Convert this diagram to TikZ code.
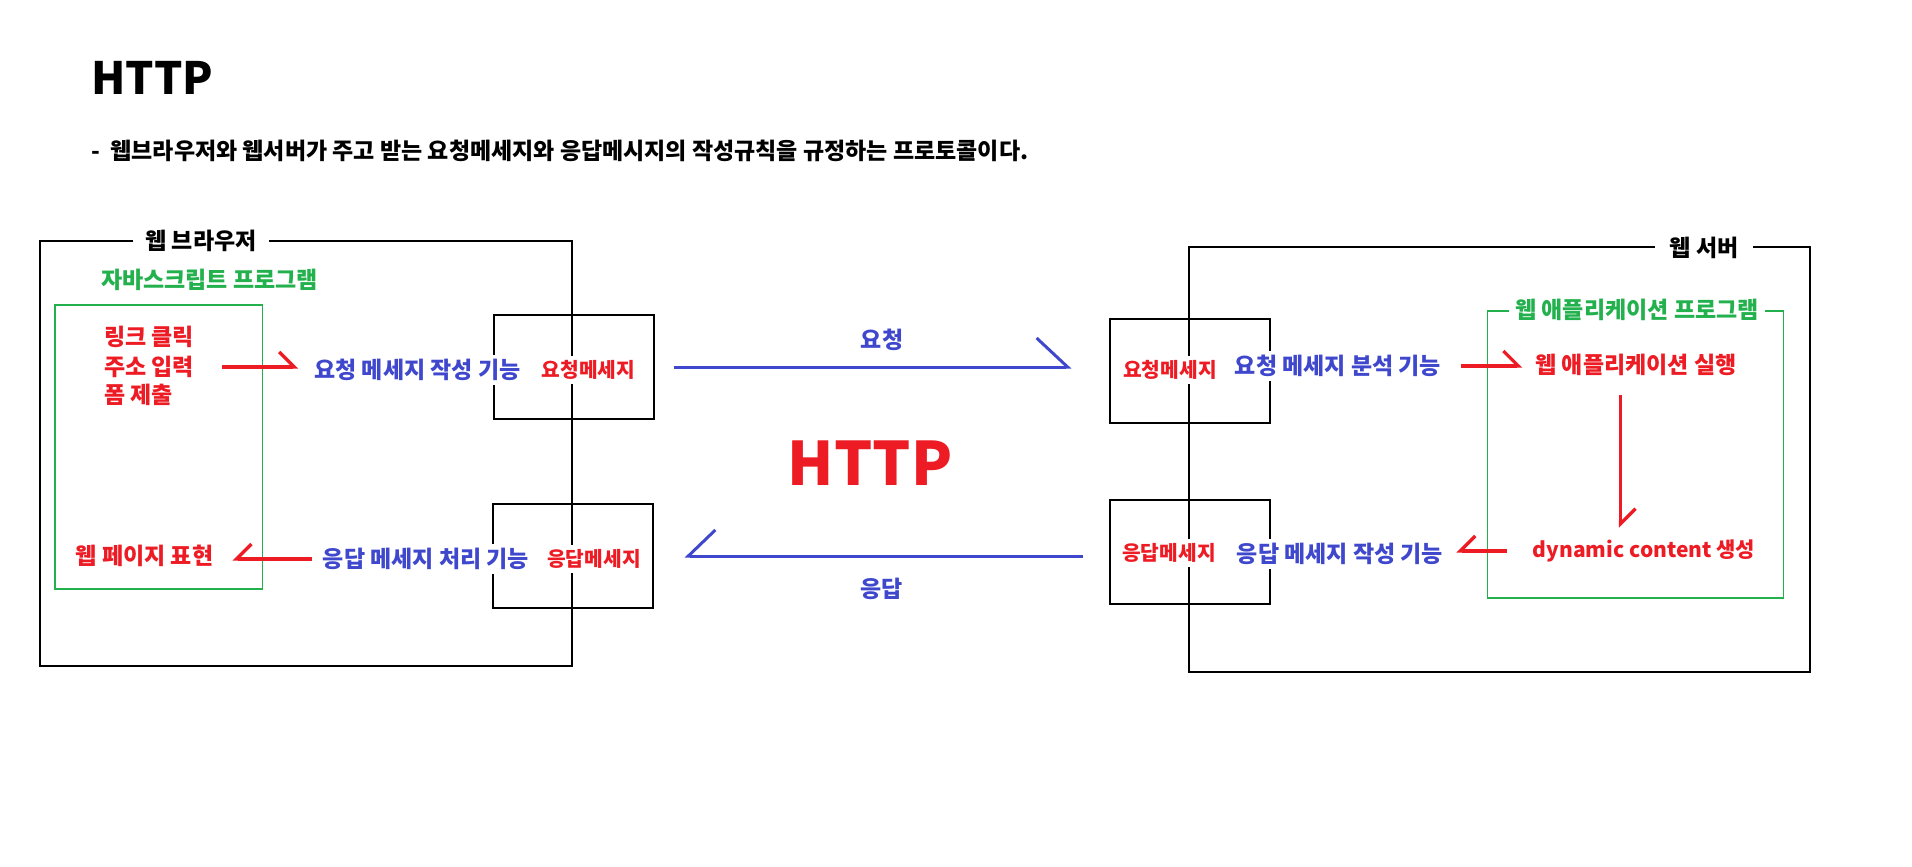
\documentclass[tikz,border=0pt]{standalone}
\usepackage{fontspec}
\setmainfont{Noto Sans CJK KR}
\usetikzlibrary{arrows.meta}
\definecolor{pred}{HTML}{ED1C24}
\definecolor{pblue}{HTML}{3F48CC}
\definecolor{pgreen}{HTML}{22B14C}
\newcommand\kfont{\bfseries\fontsize{23}{27}\selectfont}
\newcommand\mfont{\bfseries\fontsize{20.3}{24}\selectfont}
\begin{document}
\begin{tikzpicture}[x=1pt,y=-1pt]
            \tikzstyle{outer box}=[draw,line width=1.2pt,inner sep=0pt]
            \tikzstyle{green box}=[draw=pgreen,line width=1.2pt,inner sep=0pt]
            \tikzstyle{msg box}=[draw,line width=1.2pt,inner sep=0pt,minimum width=160pt,minimum height=104pt]
            \tikzstyle{frame label}=[fill=white,inner xsep=12pt,inner ysep=2pt,font=\kfont]
            \tikzstyle{red text}=[text=pred,fill=white,inner xsep=3pt,inner ysep=4pt,font=\kfont]
            \tikzstyle{blue text}=[text=pblue,fill=white,inner xsep=3pt,inner ysep=4pt,font=\kfont]
            \tikzstyle{msg text}=[text=pred,fill=white,inner xsep=3pt,inner ysep=4pt,font=\mfont]
            \tikzstyle{red harpoon}=[draw=pred,line width=3.3pt,-{Straight Barb[left,length=15pt,width=30pt]}]
            \tikzstyle{red harpoon back}=[draw=pred,line width=3.3pt,-{Straight Barb[right,length=15pt,width=30pt]}]
            \tikzstyle{blue harpoon}=[draw=pblue,line width=3pt,-{Straight Barb[left,length=31pt,width=58pt]}]
            \tikzstyle{blue harpoon back}=[draw=pblue,line width=3pt,-{Straight Barb[right,length=27pt,width=52pt]}]

            \useasboundingbox (0,0) rectangle (1912,867);

            % heading
            \node(title)[anchor=base west,inner sep=0pt,font=\bfseries\fontsize{44.5}{54}\selectfont] at (91,95) {HTTP};
            \node(desc)[anchor=west,inner sep=0pt,font=\kfont] at (91,151) {-\ \ 웹브라우저와 웹서버가 주고 받는 요청메세지와 응답메시지의 작성규칙을 규정하는 프로토콜이다.};

            % frames
            \node(browser)[outer box,minimum width=532pt,minimum height=425pt] at (306,453.5) {};
            \node(server)[outer box,minimum width=621pt,minimum height=425pt] at (1499.5,459.5) {};
            \node(jsbox)[green box,minimum width=207.5pt,minimum height=284pt] at (158.75,447) {};
            \node(appbox)[green box,minimum width=296pt,minimum height=287pt] at (1635.4,454.5) {};
            \node(reqboxL)[msg box] at (574,367) {};
            \node(respboxL)[msg box] at (573,556) {};
            \node(reqboxR)[msg box] at (1190,371) {};
            \node(respboxR)[msg box] at (1190,552) {};

            \node(browserlabel)[frame label] at (201,241) {웹 브라우저};
            \node(serverlabel)[frame label,inner xsep=15pt] at (1704,248) {웹 서버};
            \node(jslabel)[frame label,text=pgreen] at (209.5,280) {자바스크립트 프로그램};
            \node(applabel)[frame label,text=pgreen,inner xsep=6.5pt] at (1637,310) {웹 애플리케이션 프로그램};

            % browser side
            \node(click)[red text,anchor=west] at (101,337) {링크 클릭};
            \node(addr)[red text,anchor=west] at (101,367) {주소 입력};
            \node(form)[red text,anchor=west] at (101,395) {폼 제출};
            \node(render)[red text] at (144.5,556) {웹 페이지 표현};
            \node(reqmake)[blue text] at (417.5,370) {요청 메세지 작성 기능};
            \node(reqmsgL)[msg text] at (588.5,370) {요청메세지};
            \node(resproc)[blue text] at (426,559) {응답 메세지 처리 기능};
            \node(respmsgL)[msg text] at (594,559) {응답메세지};

            % server side
            \node(reqmsgR)[msg text] at (1170,370) {요청메세지};
            \node(reqparse)[blue text] at (1338,366) {요청 메세지 분석 기능};
            \node(appexec)[red text] at (1636,365) {웹 애플리케이션 실행};
            \node(dyn)[red text,font=\bfseries\fontsize{21}{25}\selectfont] at (1644,551) {dynamic content 생성};
            \node(respmake)[blue text] at (1340,554) {응답 메세지 작성 기능};
            \node(respmsgR)[msg text] at (1169,553) {응답메세지};

            \node(http)[text=pred,inner sep=0pt,font=\bfseries\fontsize{60}{66}\selectfont] at (870,463) {HTTP};

            % connectors
            \draw[red harpoon,shorten <=25pt,shorten >=13pt] (addr.east) -- (addr.east -| reqmake.west);
            \draw[blue harpoon,shorten <=19pt,shorten >=38pt] (reqboxL.east) -- (reqboxL.east -| reqboxR.west)
            node[midway,above=11pt,text=pblue,font=\kfont]{요청};
            \draw[red harpoon,shorten <=17pt,shorten >=10pt] (reqparse.east) -- (reqparse.east -| appexec.west);
            \draw[red harpoon,shorten <=15pt,shorten >=8pt] ([xshift=-15.5pt]appexec.south) -- ([xshift=-15.5pt]appexec.south |- dyn.north);
            \draw[red harpoon back,shorten <=23pt,shorten >=10pt] (dyn.west) -- (dyn.west -| respmake.east);
            \draw[blue harpoon back,shorten <=26pt,shorten >=31pt] (respboxR.west |- respboxL.east) -- (respboxL.east)
            node[midway,below=17pt,text=pblue,font=\kfont]{응답};
            \draw[red harpoon back,shorten <=8pt,shorten >=16pt] (resproc.west) -- (resproc.west -| render.east);
        \end{tikzpicture}
\end{document}
